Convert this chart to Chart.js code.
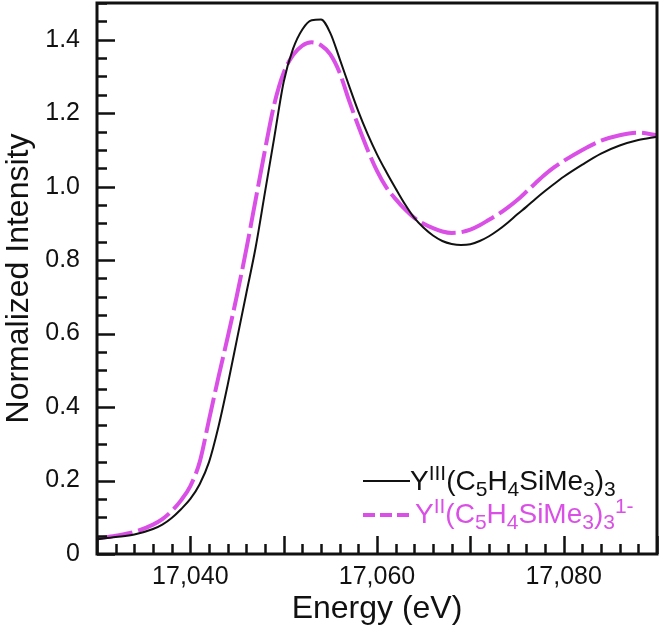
<!DOCTYPE html>
<html>
<head>
<meta charset="utf-8">
<script src="https://cdn.jsdelivr.net/npm/chart.js@4.4.1/dist/chart.umd.min.js"></script>
<style>
  html, body { margin: 0; padding: 0; background: #fff; }
  #wrap { width: 661px; height: 638px; position: relative; }
</style>
</head>
<body>
<div id="wrap"><canvas id="xanes"></canvas></div>
<script>
// Energy grid (eV) and normalized intensities
const energy = [17030, 17032, 17034, 17036, 17037, 17038, 17039, 17040, 17041, 17042,
  17043, 17044, 17045, 17046, 17047, 17048, 17049, 17050, 17051, 17052,
  17053, 17054, 17055, 17056, 17057, 17058, 17059, 17060, 17061, 17062,
  17063, 17064, 17065, 17066, 17067, 17068, 17069, 17070, 17071, 17072,
  17073, 17074, 17075, 17076, 17077, 17078, 17079, 17080, 17082, 17084,
  17086, 17088, 17090];

const yIII = [0.040, 0.046, 0.053, 0.068, 0.080, 0.098, 0.122, 0.150, 0.190, 0.250,
  0.345, 0.460, 0.585, 0.710, 0.835, 0.985, 1.135, 1.285, 1.375, 1.428,
  1.453, 1.455, 1.418, 1.348, 1.275, 1.205, 1.143, 1.088, 1.040, 0.995,
  0.952, 0.915, 0.888, 0.867, 0.852, 0.844, 0.841, 0.843, 0.852, 0.865,
  0.882, 0.902, 0.924, 0.945, 0.967, 0.988, 1.008, 1.027, 1.060, 1.090,
  1.112, 1.127, 1.136];

const yII = [0.042, 0.050, 0.060, 0.080, 0.095, 0.117, 0.146, 0.185, 0.250, 0.365,
  0.480, 0.590, 0.705, 0.830, 0.965, 1.100, 1.225, 1.310, 1.358, 1.384,
  1.393, 1.385, 1.360, 1.310, 1.235, 1.165, 1.100, 1.043, 0.998, 0.966,
  0.938, 0.915, 0.899, 0.887, 0.878, 0.874, 0.876, 0.883, 0.895, 0.910,
  0.925, 0.943, 0.963, 0.986, 1.010, 1.033, 1.053, 1.070, 1.100, 1.125,
  1.140, 1.147, 1.140];

const xLabelValues = [17040, 17060, 17080];
const yLabelValues = [0, 0.2, 0.4, 0.6, 0.8, 1.0, 1.2, 1.4];

const MAGENTA = '#da50e6';
const FONT = '"Liberation Sans", Arial, Helvetica, sans-serif';

// legend text runs: [text, 'n' | 'sub' | 'sup']
const legendIII = [['Y', 'n'], ['III', 'sup'], ['(C', 'n'], ['5', 'sub'], ['H', 'n'], ['4', 'sub'],
  ['SiMe', 'n'], ['3', 'sub'], [')', 'n'], ['3', 'sub']];
const legendII = [['Y', 'n'], ['II', 'sup'], ['(C', 'n'], ['5', 'sub'], ['H', 'n'], ['4', 'sub'],
  ['SiMe', 'n'], ['3', 'sub'], [')', 'n'], ['3', 'sub'], ['1-', 'sup']];

function drawRuns(ctx, runs, x, y, size, color){
  ctx.fillStyle = color;
  ctx.textAlign = 'left';
  ctx.textBaseline = 'alphabetic';
  runs.forEach(([t, m]) => {
    const s = m === 'n' ? size : Math.round(size * 0.75);
    const dy = m === 'sub' ? size * 0.22 : m === 'sup' ? -size * 0.34 : 0;
    ctx.font = `${s}px ${FONT}`;
    ctx.fillText(t, x, y + dy);
    x += ctx.measureText(t).width;
  });
}

// inward ticks, minor ticks, box frame and the inset legend
const framePlugin = {
  id: 'frame',
  afterDraw(chart){
    const {ctx, chartArea: a, scales: {x, y}} = chart;
    ctx.save();
    ctx.strokeStyle = '#111';
    ctx.lineWidth = 2.5;
    ctx.beginPath();
    for(let v = 0; v <= 1.5001; v += 0.05){
      const py = Math.round(y.getPixelForValue(v)) + 0.5;
      const major = Math.abs(v / 0.2 - Math.round(v / 0.2)) < 1e-6;
      ctx.moveTo(a.left, py);
      ctx.lineTo(a.left + (major ? 18 : 10), py);
    }
    for(let e = 17030; e <= 17090; e += 2){
      const px = Math.round(x.getPixelForValue(e)) + 0.5;
      const major = e % 10 === 0;
      ctx.moveTo(px, a.bottom);
      ctx.lineTo(px, a.bottom - (major ? 18 : 10));
    }
    ctx.stroke();

    ctx.lineWidth = 3;
    ctx.strokeRect(a.left, a.top, a.right - a.left, a.bottom - a.top);

    // legend
    const lx = a.left + 266, l1 = a.bottom - 73, l2 = a.bottom - 39;
    ctx.lineWidth = 2;
    ctx.strokeStyle = '#111';
    ctx.beginPath(); ctx.moveTo(lx, l1); ctx.lineTo(lx + 47, l1); ctx.stroke();
    ctx.lineWidth = 4;
    ctx.strokeStyle = MAGENTA;
    ctx.setLineDash([12, 5]);
    ctx.beginPath(); ctx.moveTo(lx, l2); ctx.lineTo(lx + 47, l2); ctx.stroke();
    ctx.setLineDash([]);
    drawRuns(ctx, legendIII, lx + 47, l1 + 9, 28, '#111');
    drawRuns(ctx, legendII, lx + 52, l2 + 8, 28, MAGENTA);
    ctx.restore();
  }
};

new Chart(document.getElementById('xanes'), {
  type: 'line',
  data: {
    datasets: [
      {
        label: 'YIII(C5H4SiMe3)3',
        data: energy.map((e, i) => ({x: e, y: yIII[i]})),
        borderColor: '#111',
        borderWidth: 2,
        pointRadius: 0,
        cubicInterpolationMode: 'monotone',
        fill: false
      },
      {
        label: 'YII(C5H4SiMe3)3 1-',
        data: energy.map((e, i) => ({x: e, y: yII[i]})),
        borderColor: MAGENTA,
        borderWidth: 4,
        borderDash: [36, 6],
        pointRadius: 0,
        cubicInterpolationMode: 'monotone',
        fill: false
      }
    ]
  },
  options: {
    responsive: true,
    maintainAspectRatio: false,
    animation: false,
    layout: { padding: { top: 3, right: 4, left: 0, bottom: 0 } },
    plugins: { legend: { display: false }, tooltip: { enabled: false } },
    scales: {
      x: {
        type: 'linear',
        min: 17030,
        max: 17090,
        afterFit: s => { s.height = 84; s.paddingLeft = 0; s.paddingRight = 0; },
        grid: { display: false, drawTicks: false },
        border: { display: false },
        ticks: {
          stepSize: 10,
          autoSkip: false,
          maxRotation: 0,
          padding: 8,
          color: '#111',
          font: { family: FONT, size: 25 },
          callback: v => xLabelValues.includes(v) ? v.toLocaleString('en-US') : ''
        },
        title: {
          display: true,
          text: 'Energy (eV)',
          color: '#111',
          font: { family: FONT, size: 32 },
          padding: { top: 0, bottom: 10 }
        }
      },
      y: {
        min: 0,
        max: 1.5,
        afterFit: s => { s.width = 97; s.paddingTop = 0; s.paddingBottom = 0; },
        grid: { display: false, drawTicks: false },
        border: { display: false },
        ticks: {
          stepSize: 0.2,
          includeBounds: false,
          padding: 17,
          color: '#111',
          font: { family: FONT, size: 25 },
          callback: v => {
            const hit = yLabelValues.find(t => Math.abs(t - v) < 1e-6);
            if(hit === undefined) return '';
            return hit === 0 ? '0' : hit.toFixed(1);
          }
        },
        title: {
          display: true,
          text: 'Normalized Intensity',
          color: '#111',
          font: { family: FONT, size: 32 },
          padding: { top: 0, bottom: 0 }
        }
      }
    }
  },
  plugins: [framePlugin]
});
</script>
</body>
</html>
